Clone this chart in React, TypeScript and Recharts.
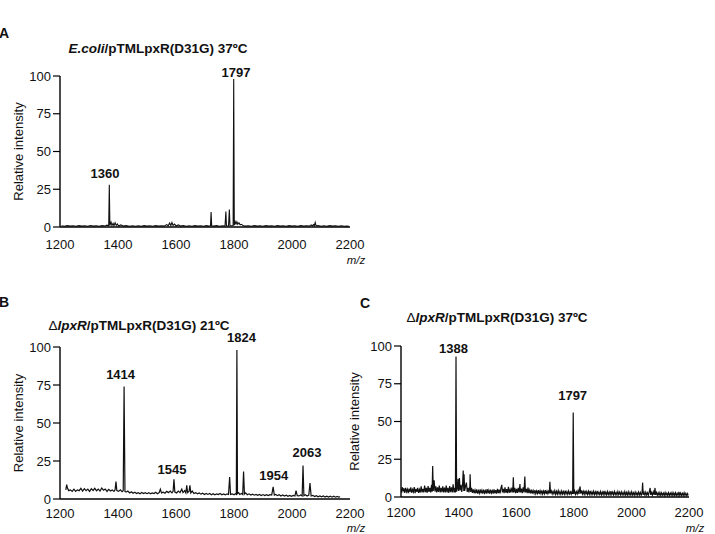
import { Label, Line, LineChart, ReferenceDot, XAxis, YAxis } from "recharts";

type Pt = [number, number];
type PeakLabel = { text: string; mz: number; at: number };

const mzTicks = [1200, 1400, 1600, 1800, 2000, 2200];
const intensityTicks = [0, 25, 50, 75, 100];

// E.coli/pTMLpxR(D31G) 37ºC
const spectrumA: Pt[] = [
  [1205, 0.8], [1215, 0.5], [1225, 0.9], [1235, 0.6], [1245, 0.8], [1255, 0.5], [1265, 0.9], [1275, 0.6],
  [1285, 0.8], [1295, 0.5], [1305, 1.0], [1315, 0.6], [1325, 0.8], [1335, 0.5], [1345, 0.9], [1355, 0.7],
  [1362, 1.2], [1368, 0.8], [1370, 28], [1372, 1.0], [1376, 3.2], [1379, 1.0], [1383, 2.4], [1386, 0.9],
  [1390, 2.8], [1394, 1.0], [1398, 2.0], [1402, 0.7], [1410, 1.4], [1418, 0.6], [1428, 0.9], [1440, 0.5],
  [1450, 0.8], [1460, 0.5], [1470, 0.8], [1480, 0.5], [1490, 0.9], [1500, 0.6], [1510, 0.8], [1520, 0.5],
  [1530, 0.9], [1540, 0.6], [1550, 0.8], [1560, 0.7], [1568, 1.6], [1573, 0.8], [1578, 2.6], [1582, 1.0],
  [1586, 3.0], [1590, 1.0], [1595, 2.0], [1600, 0.7], [1608, 1.4], [1615, 0.6], [1625, 0.9], [1635, 0.5],
  [1645, 0.8], [1655, 0.5], [1665, 0.9], [1675, 0.6], [1685, 0.8], [1695, 0.5], [1705, 0.9], [1713, 0.6],
  [1719, 0.8], [1721, 10], [1723, 0.8], [1730, 0.6], [1740, 0.9], [1750, 0.5], [1760, 0.8], [1769, 0.6],
  [1772, 10.3], [1774, 0.8], [1781, 0.7], [1784, 11.5], [1786, 0.9], [1792, 0.8], [1797, 1.0], [1799, 98],
  [1801, 1.2], [1804, 3.6], [1807, 2.0], [1810, 3.4], [1813, 1.8], [1817, 2.8], [1821, 1.4], [1826, 1.8],
  [1832, 0.8], [1840, 0.6], [1850, 0.8], [1860, 0.5], [1870, 0.9], [1880, 0.6], [1890, 0.8], [1900, 0.5],
  [1910, 0.9], [1920, 0.6], [1930, 0.8], [1940, 0.5], [1950, 0.9], [1960, 0.6], [1970, 0.8], [1980, 0.5],
  [1990, 0.9], [2000, 0.6], [2010, 0.8], [2020, 0.5], [2030, 0.9], [2040, 0.6], [2050, 0.8], [2060, 0.6],
  [2066, 1.4], [2070, 0.7], [2074, 1.6], [2077, 0.8], [2080, 3.0], [2083, 0.8], [2090, 0.9], [2100, 0.5],
  [2110, 0.8], [2120, 0.5], [2130, 0.9], [2140, 0.6], [2150, 0.8], [2160, 0.5], [2170, 0.8], [2180, 0.5],
  [2190, 0.7], [2196, 0.5],
];

const labelsA: PeakLabel[] = [
  { text: "1360", mz: 1355, at: 32.5 },
  { text: "1797", mz: 1807, at: 99.5 },
];

// ΔlpxR/pTMLpxR(D31G) 21ºC
const spectrumB: Pt[] = [
  [1220, 6], [1223, 9.5], [1226, 7], [1230, 5.5], [1236, 6], [1242, 5], [1248, 6.5], [1254, 5],
  [1260, 6], [1266, 5.5], [1272, 7], [1278, 5.2], [1284, 6.8], [1290, 5.5], [1296, 6.5], [1302, 5],
  [1308, 6.8], [1314, 5.6], [1320, 7], [1326, 5.4], [1332, 6.5], [1338, 5.2], [1344, 7.2], [1350, 5.8],
  [1356, 6.6], [1362, 5], [1368, 6.4], [1374, 5.3], [1380, 6], [1386, 5], [1390, 6], [1393, 11.5],
  [1396, 5.5], [1402, 5], [1408, 6], [1414, 4.8], [1418, 5.5], [1421, 74], [1424, 5], [1428, 4.5],
  [1434, 5.2], [1440, 4], [1446, 4.8], [1452, 3.8], [1458, 4.4], [1464, 3.6], [1470, 4.2], [1476, 3.5],
  [1482, 4.3], [1488, 3.6], [1494, 4.1], [1500, 3.5], [1506, 4.2], [1512, 3.4], [1518, 4.0], [1524, 3.6],
  [1530, 4.4], [1536, 3.5], [1542, 4.2], [1546, 6.5], [1550, 4.0], [1556, 4.5], [1562, 3.8], [1568, 5.0],
  [1574, 4.2], [1580, 5.2], [1586, 4.0], [1590, 5.0], [1593, 13], [1596, 4.5], [1602, 4.0], [1608, 5.2],
  [1614, 4.2], [1620, 6.5], [1624, 4.2], [1630, 5.5], [1634, 4.0], [1637, 9], [1640, 4.2], [1645, 5.0],
  [1648, 9], [1651, 4.0], [1656, 5.2], [1662, 3.6], [1668, 4.2], [1674, 3.4], [1680, 4.0], [1686, 3.2],
  [1692, 3.8], [1698, 3.0], [1704, 3.6], [1710, 3.0], [1716, 3.6], [1722, 2.8], [1728, 3.5], [1734, 2.8],
  [1740, 3.4], [1746, 2.9], [1752, 3.6], [1758, 2.8], [1764, 3.3], [1770, 2.7], [1776, 3.4], [1781, 3.0],
  [1785, 14.5], [1788, 3.0], [1794, 3.4], [1800, 2.8], [1805, 3.4], [1808, 3.0], [1810, 98], [1812, 3.5],
  [1816, 4.2], [1820, 3.0], [1826, 3.6], [1830, 3.0], [1833, 18], [1836, 3.2], [1840, 4.0], [1846, 2.8],
  [1852, 3.4], [1858, 2.6], [1864, 3.2], [1870, 2.5], [1876, 3.0], [1882, 2.4], [1888, 3.0], [1894, 2.3],
  [1900, 2.9], [1906, 2.3], [1912, 2.8], [1918, 2.2], [1924, 2.8], [1930, 2.6], [1935, 8], [1939, 2.6],
  [1944, 3.0], [1950, 2.2], [1956, 2.8], [1962, 2.0], [1968, 2.6], [1974, 1.9], [1980, 2.5], [1986, 1.8],
  [1992, 2.4], [1998, 1.8], [2004, 2.4], [2010, 2.0], [2014, 5.5], [2018, 2.2], [2024, 2.0], [2030, 2.6],
  [2035, 2.0], [2038, 22], [2041, 2.2], [2046, 2.8], [2052, 2.0], [2058, 2.6], [2062, 10.5], [2066, 2.0],
  [2072, 2.4], [2078, 1.6], [2084, 2.2], [2090, 1.5], [2096, 2.0], [2102, 1.4], [2108, 2.0], [2114, 1.3],
  [2120, 1.9], [2126, 1.3], [2132, 1.8], [2138, 1.2], [2144, 1.8], [2150, 1.2], [2156, 1.7], [2162, 1.2],
  [2166, 1.5],
];

const labelsB: PeakLabel[] = [
  { text: "1414", mz: 1409, at: 79 },
  { text: "1545", mz: 1586, at: 16.4 },
  { text: "1824", mz: 1826, at: 103 },
  { text: "1954", mz: 1937, at: 12.5 },
  { text: "2063", mz: 2052, at: 27.8 },
];

// ΔlpxR/pTMLpxR(D31G) 37ºC
const spectrumC: Pt[] = [
  [1201, 3], [1204, 6.5], [1207, 4], [1210, 5.8], [1213, 2.8], [1216, 6], [1219, 3.5], [1222, 5.2],
  [1225, 2.6], [1228, 5.6], [1231, 3.2], [1234, 6.4], [1237, 2.8], [1240, 5], [1243, 3.4], [1246, 6.6],
  [1249, 2.6], [1252, 5.4], [1255, 3.4], [1258, 6], [1261, 2.8], [1264, 5], [1267, 3], [1270, 7],
  [1273, 3], [1276, 5.4], [1279, 3], [1282, 7.6], [1285, 3.2], [1288, 6], [1291, 2.8], [1294, 7.2],
  [1297, 3.4], [1300, 6], [1303, 3], [1306, 8], [1308, 3.5], [1310, 20.5], [1312, 4], [1315, 11],
  [1318, 3.6], [1321, 7], [1324, 3], [1327, 6.4], [1330, 3.4], [1333, 7.6], [1336, 3], [1339, 6],
  [1342, 3.2], [1345, 7], [1348, 3], [1351, 6.2], [1354, 3], [1357, 7.6], [1360, 3], [1363, 6],
  [1366, 2.8], [1369, 7.2], [1372, 3.2], [1375, 6.4], [1378, 3], [1381, 8.4], [1384, 3], [1387, 6],
  [1389, 3], [1391, 93], [1393, 3.6], [1396, 6], [1398, 12], [1400, 4], [1403, 12.5], [1405, 4.4],
  [1408, 8], [1411, 3.4], [1414, 9], [1416, 17.5], [1418, 4], [1419, 15], [1421, 4], [1424, 7],
  [1427, 9.5], [1430, 3.4], [1433, 6], [1436, 3], [1439, 7], [1440, 15], [1442, 3.4], [1445, 6],
  [1448, 2.8], [1451, 5], [1454, 2.5], [1457, 4.6], [1460, 2.5], [1463, 5], [1466, 2.2], [1469, 4.2],
  [1472, 2.5], [1475, 5], [1478, 2.4], [1481, 4.4], [1484, 2.2], [1487, 4.8], [1490, 2.6], [1493, 4.2],
  [1496, 2.2], [1499, 5.2], [1502, 2.4], [1505, 4.4], [1508, 2.2], [1511, 4.8], [1514, 2.6], [1517, 4.2],
  [1520, 2.2], [1523, 5], [1526, 2.4], [1529, 4.6], [1532, 2.2], [1535, 5.4], [1538, 2.6], [1541, 4.8],
  [1544, 2.4], [1547, 6], [1550, 8], [1552, 3], [1555, 5.4], [1558, 2.6], [1561, 6.4], [1564, 2.8],
  [1567, 5.2], [1570, 2.6], [1573, 6.8], [1576, 2.8], [1579, 5], [1582, 3], [1585, 6.2], [1588, 3],
  [1590, 13], [1592, 3], [1595, 6], [1598, 2.6], [1601, 5.4], [1604, 2.8], [1607, 6], [1610, 3],
  [1613, 8.5], [1615, 3], [1618, 5.6], [1621, 2.6], [1624, 6.4], [1627, 3], [1630, 13.5], [1632, 3],
  [1635, 5.4], [1638, 2.6], [1641, 6.2], [1644, 2.6], [1647, 4.6], [1650, 2.4], [1653, 4.8], [1656, 2.2],
  [1659, 4.2], [1662, 2.4], [1665, 4.6], [1668, 2.2], [1671, 4], [1674, 2.4], [1677, 4.6], [1680, 2],
  [1683, 4.2], [1686, 2.2], [1689, 4.4], [1692, 2], [1695, 4], [1698, 2.2], [1701, 4.6], [1704, 2],
  [1707, 4], [1710, 2.2], [1713, 4.4], [1715, 2.4], [1717, 10], [1719, 2.4], [1722, 4], [1725, 2],
  [1728, 3.8], [1731, 2.2], [1734, 4.2], [1737, 1.8], [1740, 3.8], [1743, 2], [1746, 4.2], [1749, 2],
  [1752, 3.6], [1755, 1.8], [1758, 4], [1761, 2], [1764, 3.6], [1767, 1.8], [1770, 4.2], [1773, 2],
  [1776, 3.6], [1779, 1.8], [1782, 4], [1785, 2], [1788, 3.4], [1791, 1.8], [1794, 4], [1796, 2],
  [1798, 56], [1800, 2], [1803, 4], [1806, 1.8], [1809, 3.6], [1812, 2], [1815, 4.2], [1818, 2],
  [1820, 5], [1822, 7], [1824, 2.2], [1827, 4.4], [1830, 2], [1833, 3.8], [1836, 1.8], [1839, 4.2],
  [1842, 2], [1845, 3.6], [1848, 1.6], [1851, 3.8], [1854, 1.8], [1857, 4], [1860, 1.6], [1863, 3.4],
  [1866, 1.8], [1869, 3.8], [1872, 1.6], [1875, 3.4], [1878, 1.6], [1881, 4], [1884, 1.8], [1887, 3.2],
  [1890, 1.6], [1893, 3.6], [1896, 1.4], [1899, 3.2], [1902, 1.6], [1905, 4], [1908, 1.6], [1911, 3.2],
  [1914, 1.4], [1917, 3.6], [1920, 1.6], [1923, 3.2], [1926, 1.4], [1929, 3.8], [1932, 1.6], [1935, 3.2],
  [1938, 1.4], [1941, 3.6], [1944, 1.6], [1947, 3], [1950, 1.4], [1953, 3.6], [1956, 1.6], [1959, 3.2],
  [1962, 1.4], [1965, 3.4], [1968, 1.4], [1971, 3], [1974, 1.4], [1977, 3.6], [1980, 1.4], [1983, 3],
  [1986, 1.2], [1989, 3.4], [1992, 1.4], [1995, 3], [1998, 1.2], [2001, 3.4], [2004, 1.4], [2007, 2.8],
  [2010, 1.2], [2013, 3.2], [2016, 1.4], [2019, 2.8], [2022, 1.2], [2025, 3.2], [2028, 1.4], [2031, 3],
  [2034, 1.2], [2037, 3], [2039, 9.5], [2041, 1.4], [2044, 3], [2047, 1.2], [2050, 3.2], [2053, 1.4],
  [2056, 2.8], [2059, 1.2], [2062, 3.4], [2065, 6], [2067, 1.4], [2070, 3], [2073, 1.2], [2076, 3.4],
  [2079, 1.4], [2082, 6], [2084, 1.4], [2087, 3], [2090, 1.2], [2093, 2.8], [2096, 1.2], [2099, 3],
  [2102, 1], [2105, 2.8], [2108, 1.2], [2111, 2.6], [2114, 1], [2117, 3], [2120, 1.2], [2123, 2.6],
  [2126, 1], [2129, 2.8], [2132, 1], [2135, 2.6], [2138, 1.2], [2141, 3], [2144, 1], [2147, 2.6],
  [2150, 1], [2153, 2.8], [2156, 1], [2159, 2.4], [2162, 1], [2165, 3.4], [2168, 1], [2171, 2.6],
  [2174, 1], [2177, 2.4], [2180, 1], [2183, 2.8], [2186, 1], [2189, 2.4], [2192, 1], [2195, 2.2],
  [2197, 1],
];

const labelsC: PeakLabel[] = [
  { text: "1388", mz: 1382, at: 95.5 },
  { text: "1797", mz: 1796, at: 64 },
];

const FONT = "'Liberation Sans', Arial, Helvetica, sans-serif";
const INK = "#111";

function IntensityLabel({ viewBox }: any) {
  const cx = viewBox.x + 18;
  const cy = viewBox.y + viewBox.height / 2;
  return (
    <text
      x={cx}
      y={cy}
      transform={`rotate(-90, ${cx}, ${cy})`}
      textAnchor="middle"
      dominantBaseline="central"
      fontSize={13}
      fill={INK}
    >
      Relative intensity
    </text>
  );
}

// m/z sits just under the 2200 tick label, a bit to its right
const mzLabel = (drop: number) =>
  function MzLabel({ viewBox }: any) {
    return (
      <text
        x={viewBox.x + viewBox.width + 6}
        y={viewBox.y + drop}
        textAnchor="middle"
        fontSize={11.5}
        fontStyle="italic"
        fill={INK}
      >
        m/z
      </text>
    );
  };

type PanelProps = {
  spectrum: Pt[];
  labels: PeakLabel[];
  width: number;
  height: number;
  top: number;
  right: number;
  yWidth: number;
  xHeight: number;
  tickGap: number;
  mzDrop: number;
  stroke?: number;
};

function SpectrumPanel({ spectrum, labels, width, height, top, right, yWidth, xHeight, tickGap, mzDrop, stroke = 1 }: PanelProps) {
  const data = spectrum.map(([mz, v]) => ({ mz, v }));
  const tick = { fontSize: 13, fill: INK, fontFamily: FONT };
  return (
    <LineChart width={width} height={height} data={data} margin={{ top, right, bottom: 0, left: 0 }}>
      <XAxis
        dataKey="mz"
        type="number"
        domain={[1200, 2200]}
        ticks={mzTicks}
        allowDataOverflow
        height={xHeight}
        tick={tick}
        tickLine={false}
        tickSize={0}
        tickMargin={tickGap}
        axisLine={{ stroke: "#000", strokeWidth: 1.4 }}
      >
        <Label content={mzLabel(mzDrop)} />
      </XAxis>
      <YAxis
        type="number"
        domain={[0, 100]}
        ticks={intensityTicks}
        width={yWidth}
        tick={tick}
        tickSize={7}
        tickMargin={2}
        tickLine={{ stroke: "#000", strokeWidth: 1.2 }}
        axisLine={{ stroke: "#000", strokeWidth: 1.4 }}
      >
        <Label content={IntensityLabel} />
      </YAxis>
      <Line
        dataKey="v"
        type="linear"
        stroke={INK}
        strokeWidth={stroke}
        dot={false}
        activeDot={false}
        isAnimationActive={false}
      />
      {labels.map((l) => (
        <ReferenceDot
          key={l.text}
          x={l.mz}
          y={l.at}
          r={0}
          fill="none"
          stroke="none"
          ifOverflow="visible"
          label={{ value: l.text, position: "top", offset: 0, fontSize: 13, fontWeight: 700, fill: INK }}
        />
      ))}
    </LineChart>
  );
}

const abs = (left: number, top: number): React.CSSProperties => ({ position: "absolute", left, top });

export default function App() {
  const title: React.CSSProperties = {
    position: "absolute",
    width: 320,
    textAlign: "center",
    fontSize: 13.5,
    fontWeight: 700,
    lineHeight: "16px",
    color: INK,
    whiteSpace: "nowrap",
  };
  const letter: React.CSSProperties = { position: "absolute", fontSize: 14, fontWeight: 700, lineHeight: "16px", color: INK };
  return (
    <div style={{ position: "absolute", left: 0, top: 0, width: 715, height: 534, background: "#fff", fontFamily: FONT, overflow: "hidden" }}>
      <div style={{ ...letter, left: -1, top: 25 }}>A</div>
      <div style={{ ...title, left: 158 - 160, top: 41 }}>
        <i>E.coli</i>/pTMLpxR(D31G) 37ºC
      </div>
      <div style={abs(0, 0)}>
        <SpectrumPanel spectrum={spectrumA} labels={labelsA} width={370} height={270} top={76} right={20} yWidth={60} xHeight={43} tickGap={13} mzDrop={37} stroke={1.1} />
      </div>

      <div style={{ ...letter, left: -1, top: 294 }}>B</div>
      <div style={{ ...title, left: 139 - 160, top: 318 }}>
        <span style={{ fontWeight: 400 }}>Δ</span>
        <i>lpxR</i>/pTMLpxR(D31G) 21ºC
      </div>
      <div style={abs(0, 268)}>
        <SpectrumPanel spectrum={spectrumB} labels={labelsB} width={370} height={266} top={79} right={20} yWidth={60} xHeight={35} tickGap={10} mzDrop={33} stroke={1.2} />
      </div>

      <div style={{ ...letter, left: 360, top: 295 }}>C</div>
      <div style={{ ...title, left: 497 - 160, top: 310 }}>
        <span style={{ fontWeight: 400 }}>Δ</span>
        <i>lpxR</i>/pTMLpxR(D31G) 37ºC
      </div>
      <div style={abs(336, 268)}>
        <SpectrumPanel spectrum={spectrumC} labels={labelsC} width={379} height={266} top={78} right={26} yWidth={65} xHeight={37} tickGap={11} mzDrop={35} stroke={1.2} />
      </div>
    </div>
  );
}
